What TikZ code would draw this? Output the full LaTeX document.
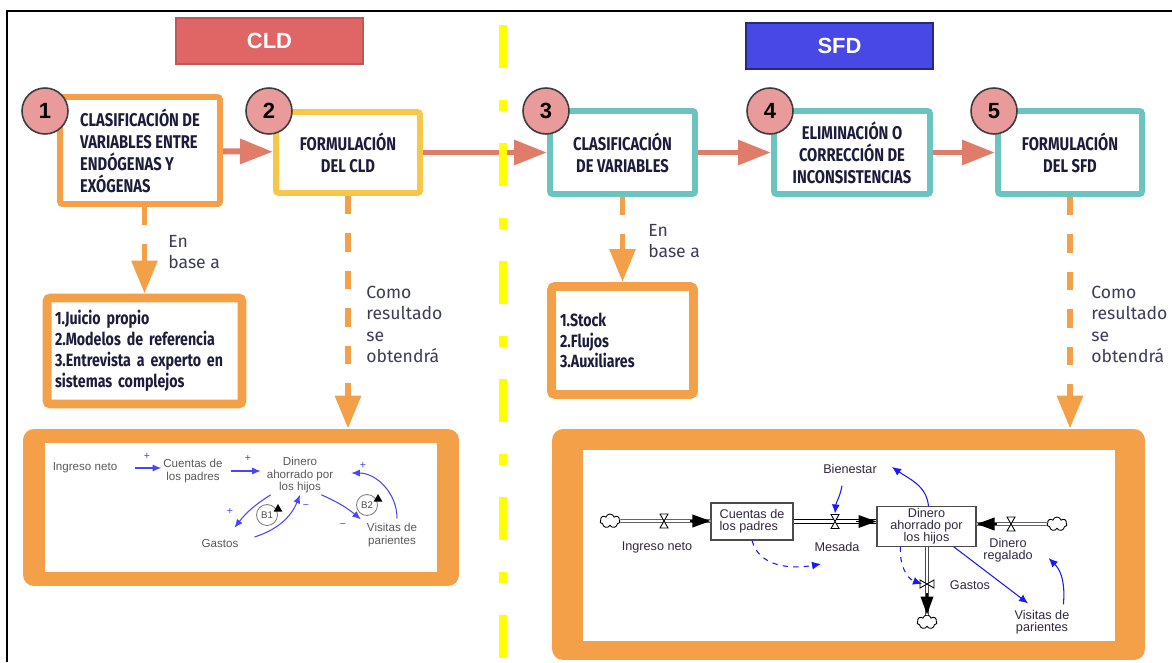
\documentclass[tikz,border=0pt]{standalone}
\usepackage{fontspec}
\setmainfont{Fira Sans}
\newfontfamily\condfont[FakeStretch=0.8]{Fira Sans}
\newfontfamily\arialfont{Liberation Sans}
\usepackage{tikz}
\usetikzlibrary{positioning,arrows.meta,calc,shapes.geometric,shapes.symbols}
\definecolor{cOrange}{RGB}{244,160,72}
\definecolor{cGold}{RGB}{247,198,74}
\definecolor{cTeal}{RGB}{108,196,192}
\definecolor{cSalmon}{RGB}{224,124,106}
\definecolor{cPink}{RGB}{233,154,154}
\definecolor{cRing}{RGB}{60,60,60}
\definecolor{cRedHdr}{RGB}{224,102,102}
\definecolor{cBlueHdr}{RGB}{72,72,230}
\definecolor{cInk}{RGB}{28,28,60}
\definecolor{cNote}{RGB}{60,60,90}
\definecolor{cGreyTx}{RGB}{90,90,90}
\definecolor{cSfdTx}{RGB}{50,40,65}
\definecolor{cLinkA}{RGB}{70,70,255}
\definecolor{cLinkB}{RGB}{25,25,255}
\definecolor{cSep}{RGB}{255,255,0}

\begin{document}
\begin{tikzpicture}[x=0.02cm,y=0.02cm,
   hdr/.style={line width=0.8pt,minimum width=3.74cm,minimum height=0.92cm,text=white,font=\arialfont\bfseries\fontsize{12.5}{12.5}\selectfont},
   stepbox/.style={draw,line width=3.4pt,fill=white,rounded corners=1.5pt,inner sep=0pt,align=center,text=cInk,font=\condfont\bfseries\fontsize{10.5}{12.5}\selectfont},
   num/.style={circle,draw=cRing,line width=0.9pt,fill=cPink,minimum size=0.92cm,inner sep=0pt,font=\arialfont\bfseries\fontsize{12.5}{12.5}\selectfont},
   flow/.style={draw=cSalmon,line width=3.4pt,-{Triangle[length=0.66cm,width=0.48cm]}},
   dflow/.style={draw=cOrange,line width=3.4pt,dash pattern=on 0.37cm off 0.38cm,-{Triangle[length=0.66cm,width=0.5cm]}},
   sep/.style={draw=cSep,line width=5pt,dash pattern=on 0.86cm off 0.64cm on 0.22cm off 0.64cm},
   listbox/.style={draw=cOrange,line width=5.1pt,fill=white,rounded corners=2pt,inner sep=0pt,align=left,text=cInk,font=\condfont\bfseries\fontsize{10.1}{11.9}\selectfont},
   note/.style={anchor=west,align=left,inner sep=0pt,text=cNote,font=\fontsize{10}{12.2}\selectfont},
   frame/.style={fill=cOrange,rounded corners=0.22cm,inner sep=0pt},
   pane/.style={fill=white,inner sep=0pt},
   cvar/.style={align=center,inner sep=1pt,text=cGreyTx,font=\arialfont\fontsize{6.6}{7}\selectfont},
   clink/.style={draw=cLinkA,line width=0.6pt,-{Latex[length=0.17cm,width=0.14cm]}},
   sign/.style={inner sep=0pt,text=cLinkA,font=\arialfont\fontsize{6}{6}\selectfont},
   loopc/.style={circle,draw=gray,line width=0.5pt,minimum size=0.42cm,inner sep=0pt,text=gray!60!black,font=\arialfont\fontsize{5.5}{5.5}\selectfont},
   tri/.style={regular polygon,regular polygon sides=3,fill=black,inner sep=0pt,minimum size=0.2cm},
   svar/.style={align=center,inner sep=1pt,text=cSfdTx,font=\arialfont\fontsize{7.2}{7}\selectfont},
   stock/.style={draw=gray!60!black,line width=0.6pt,fill=white,inner sep=1pt,text=cSfdTx,font=\arialfont\fontsize{7.2}{6.8}\selectfont},
   cloudn/.style={cloud,cloud puffs=7,aspect=1.4,draw=black,line width=0.5pt,fill=white,inner sep=0pt,minimum width=0.4cm,minimum height=0.28cm},
   pipe/.style={draw=gray!60!black,double=white,double distance=1.3pt,line width=0.45pt},
   pipetip/.style={line width=1.1pt,-{Triangle[length=0.36cm,width=0.25cm]}},
   slink/.style={draw=cLinkB,line width=0.6pt,-{Latex[length=0.18cm,width=0.16cm]}},
   valve/.pic={\draw[line width=0.5pt,fill=white] (-4,-7) -- (4,-7) -- (-4,7) -- (4,7) -- cycle;}]
  \useasboundingbox (0,0) rectangle (1172,-662);
  \draw[line width=1.1pt] (7,-662) -- (7,-11) -- (1172,-11);
  % Headers
  \node[hdr,fill=cRedHdr,draw=cRedHdr!85!black] (hCLD) at (269.5,-41) {CLD};
  \node[hdr,fill=cBlueHdr,draw=cBlueHdr!55!black] (hSFD) at (839.5,-46) {SFD};
  % Steps
  \node[stepbox,draw=cOrange,minimum width=3.2cm,minimum height=2.14cm,align=left] (s1) at (140,-150.5)
    {CLASIFICACIÓN DE\\VARIABLES ENTRE\\ENDÓGENAS Y\\EXÓGENAS};
  \node[stepbox,draw=cGold,minimum width=2.88cm,minimum height=1.62cm] (s2) at (348,-152.5) {FORMULACIÓN\\DEL CLD};
  \node[stepbox,draw=cTeal,minimum width=2.9cm,minimum height=1.66cm] (s3) at (622.5,-152.5) {CLASIFICACIÓN\\DE VARIABLES};
  \node[stepbox,draw=cTeal,minimum width=3.12cm,minimum height=1.66cm] (s4) at (852,-152.5)
    {ELIMINACIÓN O\\CORRECCIÓN DE\\INCONSISTENCIAS};
  \node[stepbox,draw=cTeal,minimum width=2.88cm,minimum height=1.66cm] (s5) at (1070,-152.5) {FORMULACIÓN\\DEL SFD};
  \foreach \a/\b in {s1/s2,s2/s3,s3/s4,s4/s5}
    \draw[flow] (\a) -- (\b);
  \foreach \i/\x in {1/45,2/269,3/546,4/770,5/994}
    \node[num] (n\i) at (\x,-111) {\i};
  % Separator
  \coordinate (sepTop) at (503,-25);
  \coordinate (sepBot) at (503,-662);
  \draw[sep] (sepTop) -- (sepBot);
  % Inputs
  \node[listbox,minimum width=3.9cm,minimum height=2.12cm,text width=3.58cm] (l1) at (144.5,-351)
    {1.Juicio propio\\2.Modelos de referencia\\3.Entrevista a experto en\\sistemas complejos};
  \node[listbox,minimum width=2.84cm,minimum height=2.16cm,text width=2.5cm] (l2) at (622.5,-340.5)
    {1.Stock\\2.Flujos\\3.Auxiliares};
  % Results
  \node[frame,minimum width=8.72cm,minimum height=3.14cm] (fCLD) at (241,-507.5) {};
  \node[pane,minimum width=7.84cm,minimum height=2.58cm] (pCLD) at (241,-507.5) {};
  \node[frame,minimum width=11.86cm,minimum height=4.62cm] (fSFD) at (848.5,-544.5) {};
  \node[pane,minimum width=10.64cm,minimum height=3.82cm] (pSFD) at (849,-545.5) {};
  \draw[dflow] (s1.south -| l1.north) -- (l1.north);
  \draw[dflow] (s2) -- (s2 |- fCLD.north);
  \draw[dflow] (s3) -- (l2);
  \draw[dflow] (s5) -- (s5 |- fSFD.north);
  \node[note] (lb1) at (168,-252) {En\\base a};
  \node[note] (lb2) at (366,-324.5) {Como\\resultado\\se\\obtendrá};
  \node[note] (lb3) at (648,-241) {En\\base a};
  \node[note] (lb4) at (1091,-324.5) {Como\\resultado\\se\\obtendrá};
  % CLD sketch
  \node[cvar] (v1) at (85,-468) {Ingreso neto};
  \node[cvar] (v2) at (193,-471) {Cuentas de\\los padres};
  \node[cvar] (v3) at (300,-475) {Dinero\\ahorrado por\\los hijos};
  \node[cvar] (v4) at (220,-544) {Gastos};
  \node[cvar] (v5) at (392,-535) {Visitas de\\parientes};
  \node[loopc] (b1) at (267,-515) {B1};
  \node[loopc] (b2) at (367,-505) {B2};
  \node[tri] (t1) at (278,-509) {};
  \node[tri] (t2) at (378,-499) {};
  \draw[clink,shorten <=0.32cm] (v1) -- (v1 -| v2.west);
  \draw[clink,shorten <=0.12cm,shorten >=0.08cm] (v2) -- (v2 -| v3.west);
  \draw[clink] ($(v3.south west)+(6,0)$) to[bend right=10] ($(v4.north east)+(-6,10)$);
  \draw[clink] ($(v4.east)+(14,7)$) to[bend right=25] (v3.south);
  \draw[clink] ($(v3.south east)+(-14,0)$) to[bend left=8] ($(v5.north west)+(-4,2)$);
  \draw[clink] ($(v5.north)+(5,3)$) to[out=90,in=0] ($(v3.east)+(16,2)$);
  \node[sign] (g1) at (147,-456) {+};
  \node[sign] (g2) at (248,-458) {+};
  \node[sign] (g3) at (230,-511) {+};
  \node[sign] (g4) at (306,-507) {−};
  \node[sign] (g5) at (343,-526) {−};
  \node[sign] (g6) at (363,-465) {+};
  % SFD sketch
  \node[cloudn] (c1) at (610,-521) {};
  \node[stock,align=left,minimum width=1.64cm,minimum height=0.74cm] (k1) at (752,-521.5) {Cuentas de\\los padres};
  \node[stock,align=center,minimum width=1.98cm,minimum height=0.78cm] (k2) at (926.5,-526.5) {Dinero\\ahorrado por\\los hijos};
  \node[cloudn] (c2) at (1057,-524) {};
  \node[cloudn] (c3) at (927,-622) {};
  \coordinate (vIng) at (664,-521);
  \coordinate (vMes) at (835,-521.5);
  \coordinate (vReg) at (1011,-524);
  \coordinate (vGas) at (927,-584);
  \draw[pipe] (c1) -- (c1 -| k1.west);
  \draw[pipetip] ($(c1 -| k1.west)+(-20,0)$) -- (c1 -| k1.west);
  \draw[pipe,draw=black,line width=0.7pt] (k1.east) -- (k1.east -| k2.west);
  \draw[pipetip] ($(k1.east -| k2.west)+(-20,0)$) -- (k1.east -| k2.west);
  \draw[pipe] (c2) -- (c2 -| k2.east);
  \draw[pipetip] ($(c2 -| k2.east)+(20,0)$) -- (c2 -| k2.east);
  \draw[pipe] (k2.south -| c3) -- (c3);
  \draw[pipetip] ($(c3.north)+(0,22)$) -- (c3.north);
  \foreach \v/\r in {vIng/0,vMes/0,vReg/0,vGas/90}
    \pic[rotate=\r] at (\v) {valve};
  \node[svar] (lIng) at (657,-547) {Ingreso neto};
  \node[svar] (lMes) at (837,-547) {Mesada};
  \node[svar] (lBien) at (850,-469) {Bienestar};
  \node[svar] (lReg) at (1008,-550) {Dinero\\regalado};
  \node[svar] (lGas) at (970,-585) {Gastos};
  \node[svar] (lVis) at (1042,-622.5) {Visitas de\\parientes};
  \coordinate (mEnd) at (821,-564);
  \coordinate (bEnd) at (892,-467);
  \draw[slink] ($(lBien.south)+(-8,-10)$) to[out=-100,in=85] ($(vMes)+(0,8)$);
  \draw[slink,dashed] (k1.south) to[out=-75,in=190] (mEnd);
  \draw[slink] ($(k2.north)+(2,0)$) to[out=95,in=-35] (bEnd);
  \draw[slink,dashed] ($(k2.south)+(-26,0)$) to[out=-95,in=160] ($(vGas)+(-5,0)$);
  \draw[slink] ($(k2.south)+(27,0)$) -- ($(lVis.north)+(-14,5)$);
  \draw[slink] ($(lVis.north east)+(-8,4)$) to[out=85,in=-45] ($(lReg.south east)+(14,6)$);
\end{tikzpicture}
\end{document}
